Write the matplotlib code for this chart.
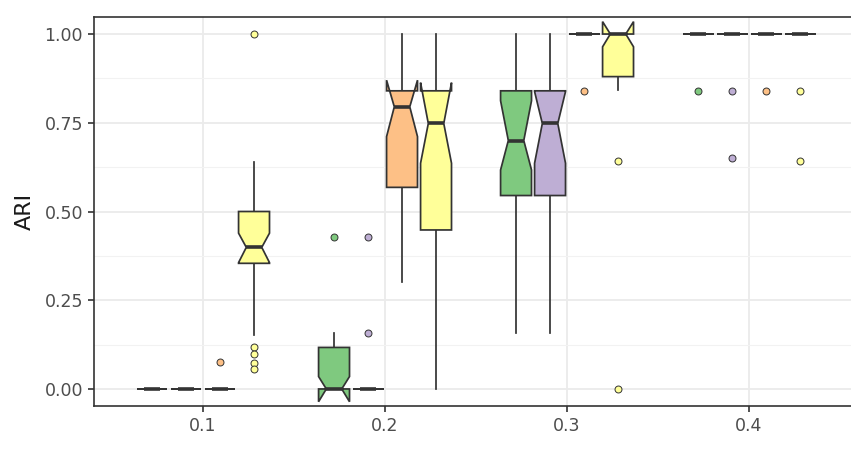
import numpy as np
import matplotlib
matplotlib.use("Agg")
import matplotlib.pyplot as plt

# ---------------- data ----------------
groups = [0.1, 0.2, 0.3, 0.4]
methods = ["A", "B", "C", "D"]
colors = ["#7FC97F", "#BEAED4", "#FDC086", "#FFFF99"]

# one entry per (group, method), order: group-major, method-minor
q1 = [0.0, 0.0, 0.0, 0.354,
      0.0, 0.0, 0.568, 0.448,
      0.545, 0.545, 1.0, 0.88,
      1.0, 1.0, 1.0, 1.0]
med = [0.0, 0.0, 0.0, 0.399,
       0.0, 0.0, 0.795, 0.748,
       0.70, 0.748, 1.0, 1.0,
       1.0, 1.0, 1.0, 1.0]
q3 = [0.0, 0.0, 0.0, 0.50,
      0.117, 0.0, 0.84, 0.84,
      0.84, 0.84, 1.0, 1.0,
      1.0, 1.0, 1.0, 1.0]
ci_lo = [0.0, 0.0, 0.0, 0.356,
         -0.036, 0.0, 0.711, 0.636,
         0.617, 0.636, 1.0, 0.964,
         1.0, 1.0, 1.0, 1.0]
ci_hi = [0.0, 0.0, 0.0, 0.439,
         0.035, 0.0, 0.870, 0.863,
         0.812, 0.838, 1.0, 1.035,
         1.0, 1.0, 1.0, 1.0]
wlo = [0.0, 0.0, 0.0, 0.152,
       0.0, 0.0, 0.30, 0.0,
       0.159, 0.159, 1.0, 0.842,
       1.0, 1.0, 1.0, 1.0]
whi = [0.0, 0.0, 0.0, 0.640,
       0.157, 0.0, 1.0, 1.0,
       1.0, 1.0, 1.0, 1.0,
       1.0, 1.0, 1.0, 1.0]
outliers = [[], [], [0.077], [1.0, 0.119, 0.098, 0.074, 0.055],
            [0.428], [0.428, 0.159], [], [],
            [], [], [0.84], [0.642, 0.0],
            [0.84], [0.84, 0.652], [0.84], [0.84, 0.642]]

# ---------------- layout ----------------
dodge = 0.01868      # distance between neighbouring boxes
box_w = 0.0170
edge = "#333333"

fig = plt.figure(figsize=(8.51, 4.5), dpi=100)
ax = fig.add_axes([94 / 851, 44 / 450, 767 / 851, 389 / 450])

stats, pos, fills = [], [], []
for gi, g in enumerate(groups):
    for mi in range(len(methods)):
        k = gi * len(methods) + mi
        stats.append(dict(q1=q1[k], med=med[k], q3=q3[k],
                          cilo=ci_lo[k], cihi=ci_hi[k],
                          whislo=wlo[k], whishi=whi[k],
                          fliers=np.array(outliers[k])))
        pos.append(g + (mi - 1.5) * dodge)
        fills.append(colors[mi])

bp = ax.bxp(stats, positions=pos, widths=box_w, shownotches=True,
            patch_artist=True, showcaps=False, manage_ticks=False,
            boxprops=dict(edgecolor=edge, linewidth=1.25),
            whiskerprops=dict(color=edge, linewidth=1.25),
            medianprops=dict(color=edge, linewidth=2.6, solid_capstyle="butt"),
            flierprops=dict(marker="o", markersize=5, markeredgecolor=edge,
                            markeredgewidth=0.7))
for patch, fl, c in zip(bp["boxes"], bp["fliers"], fills):
    patch.set_facecolor(c)
    patch.set_zorder(3)
    fl.set_markerfacecolor(c)
for m in bp["medians"]:
    m.set_zorder(4)

# ---------------- axes styling (theme_bw look) ----------------
ax.set_xlim(0.0401, 0.4615)
ax.set_ylim(-0.048, 1.048)
ax.set_xticks(groups)
ax.set_xticklabels(["0.1", "0.2", "0.3", "0.4"])
ax.set_yticks([0, 0.25, 0.5, 0.75, 1.0])
ax.set_yticklabels(["0.00", "0.25", "0.50", "0.75", "1.00"])
ax.set_yticks([0.125, 0.375, 0.625, 0.875], minor=True)
ax.grid(True, which="major", color="#EBEBEB", linewidth=1.3, zorder=0)
ax.grid(True, which="minor", axis="y", color="#F2F2F2", linewidth=0.8, zorder=0)
ax.set_axisbelow(True)
ax.tick_params(which="major", length=4, width=1.2, color=edge,
               labelsize=12.5, labelcolor="#4D4D4D", pad=4)
ax.tick_params(which="minor", length=0)
for s in ax.spines.values():
    s.set_color(edge)
    s.set_linewidth(1.2)
ax.spines["right"].set_visible(False)
ax.set_ylabel("ARI", fontsize=16, color="#1A1A1A", labelpad=7)

fig.savefig("out.png", dpi=100)
